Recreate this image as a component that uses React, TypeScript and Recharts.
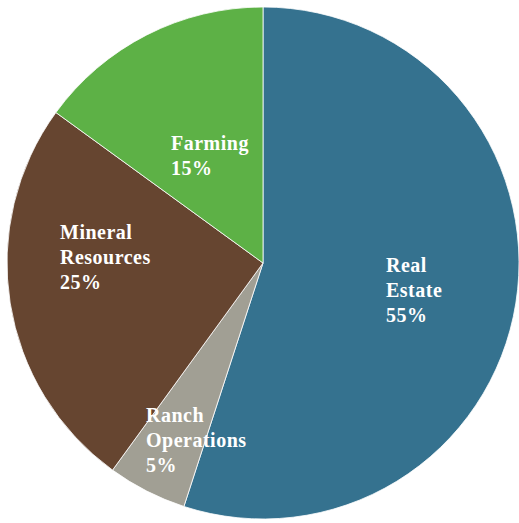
import * as React from "react";
import { Cell, Pie, PieChart } from "recharts";

const segments = ["Real Estate", "Ranch Operations", "Mineral Resources", "Farming"];
const shares = [55, 5, 25, 15];
const labelLines = [
  ["Real", "Estate", "55%"],
  ["Ranch", "Operations", "5%"],
  ["Mineral", "Resources", "25%"],
  ["Farming", "15%"]
];
const colors = ["#35728f", "#a19f94", "#664530", "#5db146"];

// where each label block starts, relative to the pie centre
const labelOffset = [
  { dx: 123, dy: 9 },
  { dx: -117, dy: 159 },
  { dx: -203, dy: -24 },
  { dx: -92, dy: -113 }
];

const data = segments.map((name, i) => ({ name, value: shares[i] }));

function SliceLabel(props: any) {
  const { cx, cy, index } = props;
  const off = labelOffset[index];
  const lines = labelLines[index];
  return (
    <text
      x={cx + off.dx}
      y={cy + off.dy}
      fill="#ffffff"
      fontFamily="'Liberation Serif', 'Times New Roman', serif"
      fontWeight="bold"
      fontSize={20}
      letterSpacing={0.5}
      textAnchor="start"
    >
      {lines.map((l, i) => (
        <tspan key={i} x={cx + off.dx} dy={i === 0 ? 0 : 25}>
          {l}
        </tspan>
      ))}
    </text>
  );
}

export default function App() {
  return (
    <div style={{ position: "absolute", left: 0, top: 0, width: 519, height: 523, background: "#fff" }}>
      <PieChart width={519} height={523} margin={{ top: 0, right: 0, bottom: 0, left: 0 }}>
        <Pie
          data={data}
          dataKey="value"
          nameKey="name"
          cx={263}
          cy={263}
          outerRadius={256}
          startAngle={90}
          endAngle={-270}
          stroke="#ffffff"
          strokeWidth={0.8}
          labelLine={false}
          label={SliceLabel}
          isAnimationActive={false}
        >
          {data.map((d, i) => (
            <Cell key={d.name} fill={colors[i]} />
          ))}
        </Pie>
      </PieChart>
    </div>
  );
}
